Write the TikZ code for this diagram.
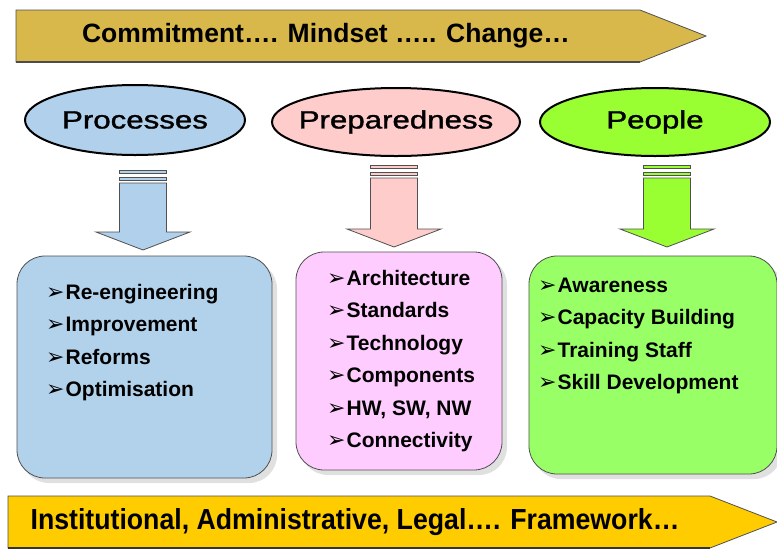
\documentclass[tikz,border=0pt]{standalone}
\usepackage{fontspec}
\setmainfont{Liberation Sans}
\newfontfamily\symfont{DejaVu Sans}
\newfontfamily\ovalfont[FakeBold=1.2]{Liberation Sans}
\usetikzlibrary{shapes.geometric}
\definecolor{goldband}{HTML}{D8B84A}
\definecolor{yellowband}{HTML}{FFCC00}
\definecolor{procfill}{HTML}{B0D0EC}
\definecolor{procbox}{HTML}{B2D2EC}
\definecolor{prepfill}{HTML}{FFCCCC}
\definecolor{prepbox}{HTML}{FFCCFF}
\definecolor{peopfill}{HTML}{99FF33}
\definecolor{peopbox}{HTML}{99FF66}
\definecolor{edgegray}{HTML}{505050}
\newcommand{\itm}[1]{\raisebox{-0.5pt}{\symfont\fontsize{22}{22}\selectfont ➢}\hspace{1pt}#1}
\tikzset{
  band/.style={draw=edgegray, line width=0.8pt},
  bandtext/.style={font=\bfseries, anchor=center, inner sep=0pt},
  oval/.style={ellipse, draw=black, line width=2pt, inner sep=0pt},
  ovaltext/.style={font=\ovalfont\fontsize{25}{25}\selectfont, xscale=1.25, inner sep=0pt},
  itembox/.style={draw=edgegray, line width=0.8pt, rounded corners=28pt},
  shadowbox/.style={fill=black!12, rounded corners=28pt},
  itemtext/.style={font=\bfseries\fontsize{21}{21}\selectfont, anchor=base west, inner sep=0pt},
}
\begin{document}
\begin{tikzpicture}[x=1pt,y=-1pt]
\useasboundingbox (0,0) rectangle (777,550);
\fill[white] (0,0) rectangle (777,550);

% top banner
\fill[band, fill=goldband] (16,10) -- (640,10) -- (706,36) -- (640,62) -- (16,62) -- cycle;
\draw[line width=1.6pt, black!70] (16,62) -- (640,62);
\node[bandtext, font=\bfseries\fontsize{26.5}{26.5}\selectfont] (top) at (326,36) {Commitment…. Mindset ….. Change…};

% bottom banner
\fill[band, fill=yellowband] (8,496) -- (710,496) -- (777,522) -- (710,548) -- (8,548) -- cycle;
\draw[line width=1.8pt, black!80] (8,548) -- (710,548);
\node[bandtext, font=\bfseries\fontsize{29}{29}\selectfont, xscale=0.92] (bottom) at (355,522) {Institutional, Administrative, Legal…. Framework…};

% ellipses
\node[oval, fill=procfill, minimum width=220pt, minimum height=70pt] (proc) at (135,120) {};
\node[ovaltext] (proclbl) at (proc) {Processes};
\node[oval, fill=prepfill, minimum width=248pt, minimum height=68pt] (prep) at (396,122) {};
\node[ovaltext] (preplbl) at (prep) {Preparedness};
\node[oval, fill=peopfill, minimum width=230pt, minimum height=68pt] (peop) at (655,122) {};
\node[ovaltext] (peoplbl) at (peop) {People};

% down arrows: two stripes, shaft and head
\foreach \cx/\ta/\tb/\fc/\nm in {143/170/250/procfill/parr, 394/165/247/prepfill/rarr, 667/165/247/peopfill/oarr}{
  \fill[\fc, draw=edgegray, line width=0.8pt] (\cx-23.5,\ta) rectangle (\cx+23.5,\ta+3);
  \fill[\fc, draw=edgegray, line width=0.8pt] (\cx-23.5,\ta+7) rectangle (\cx+23.5,\ta+10);
  \filldraw[\fc, draw=edgegray, line width=0.8pt]
    (\cx-23.5,\ta+13) -- (\cx+23.5,\ta+13) -- (\cx+23.5,\tb-18) -- (\cx+47,\tb-18)
    -- (\cx,\tb) -- (\cx-47,\tb-18) -- (\cx-23.5,\tb-18) -- cycle;
  \coordinate (\nm) at (\cx,\tb);
}

% boxes with soft shadows
\fill[shadowbox] (21,261) rectangle (277,483);
\filldraw[itembox, fill=procbox] (17,256) rectangle (272,478);
\fill[shadowbox] (300,257) rectangle (507,475);
\filldraw[itembox, fill=prepbox] (296,252) rectangle (502,470);
\fill[shadowbox] (533,261) rectangle (782,479);
\filldraw[itembox, fill=peopbox] (529,256) rectangle (777,474);

% item lists (baselines)
\node[itemtext] (p1) at (46,299) {\itm{Re-engineering}};
\node[itemtext] (p2) at (46,331) {\itm{Improvement}};
\node[itemtext] (p3) at (46,364) {\itm{Reforms}};
\node[itemtext] (p4) at (46,396) {\itm{Optimisation}};

\node[itemtext] (r1) at (327,285) {\itm{Architecture}};
\node[itemtext] (r2) at (327,317) {\itm{Standards}};
\node[itemtext] (r3) at (327,350) {\itm{Technology}};
\node[itemtext] (r4) at (327,382) {\itm{Components}};
\node[itemtext] (r5) at (327,415) {\itm{HW, SW, NW}};
\node[itemtext] (r6) at (327,447) {\itm{Connectivity}};

\node[itemtext] (o1) at (538,292) {\itm{Awareness}};
\node[itemtext] (o2) at (538,324) {\itm{Capacity Building}};
\node[itemtext] (o3) at (538,357) {\itm{Training Staff}};
\node[itemtext] (o4) at (538,389) {\itm{Skill Development}};
\end{tikzpicture}
\end{document}
